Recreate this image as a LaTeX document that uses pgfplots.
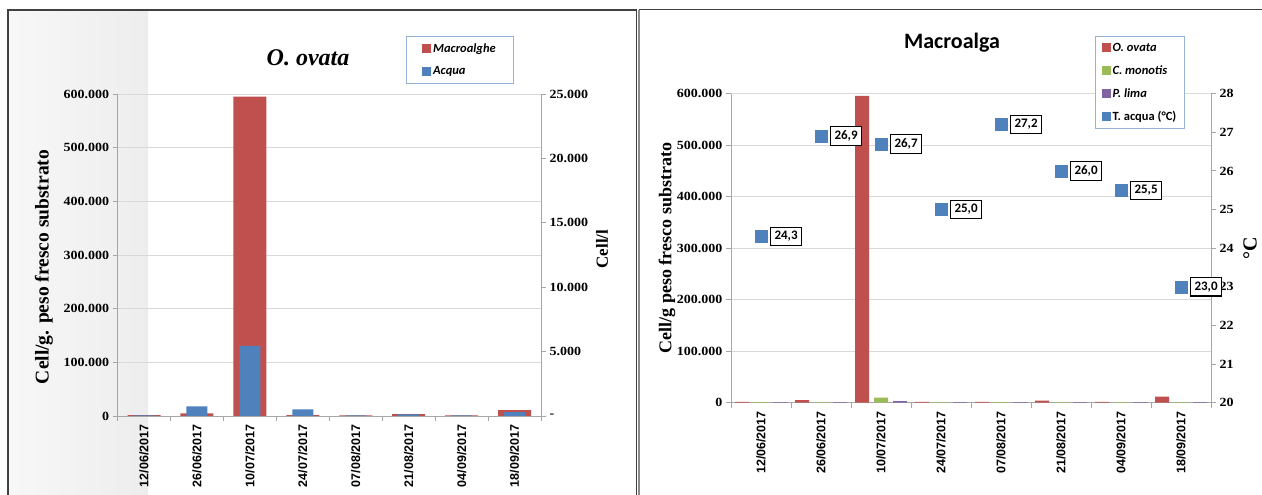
\documentclass[border=0pt]{standalone}
\usepackage{fontspec}
\setmainfont{Liberation Serif}
\newfontfamily\tnrw[FakeStretch=1.12]{Liberation Serif}
\newfontfamily\arialf{Liberation Sans}
\newfontfamily\calib{Carlito}
\usepackage{pgfplots}
\pgfplotsset{compat=1.18}

\definecolor{xred}{HTML}{C0504D}
\definecolor{xblue}{HTML}{4F81BD}
\definecolor{xgreen}{HTML}{9BBB59}
\definecolor{xpurple}{HTML}{8064A2}
\definecolor{gridc}{HTML}{D9D9D9}
\definecolor{axc}{HTML}{A6A6A6}
\definecolor{legc}{HTML}{95B3D7}
\definecolor{framec}{HTML}{404040}

\pgfplotsset{
  xlsbase/.style={
    scale only axis, anchor=south west,
    xmin=0.5, xmax=8.5,
    axis line style={axc, line width=0.9pt},
    tick style={axc, line width=0.9pt},
    major tick length=5pt,
    tick align=outside,
    clip=false,
    scaled y ticks=false,
    yticklabel style={font=\tnrw\bfseries\fontsize{12.5}{12.5}\selectfont},
  },
  datex/.style={
    xtick={0.5,1.5,...,8.5},
    xticklabels={12/06/2017,26/06/2017,10/07/2017,24/07/2017,07/08/2017,21/08/2017,04/09/2017,18/09/2017},
    x tick label as interval,
    xticklabel style={rotate=90, anchor=east, font=\arialf\bfseries\fontsize{12.5}{12.5}\selectfont},
  },
  sqimg/.style={legend image code/.code={\fill[#1] (0pt,-3.5pt) rectangle (8pt,4.5pt);}},
}

\begin{document}
\begin{tikzpicture}
\path[use as bounding box, fill=white] (0pt,0pt) rectangle (1262pt,495pt);
\shade[left color=white!97!black, right color=white!93!black] (8pt,0pt) rectangle (148pt,485pt);

% ---------------- left panel ----------------
\begin{axis}[xlsbase, datex, at={(117.6pt,79pt)}, width=423.4pt, height=322pt,
  ymin=0, ymax=600000,
  axis y line*=left, axis x line*=bottom,
  ytick={0,100000,200000,300000,400000,500000,600000},
  yticklabels={0,100.000,200.000,300.000,400.000,500.000,600.000},
  ymajorgrids, grid style={gridc, line width=0.9pt},
]
\addplot[ybar, bar width=33pt, bar shift=0pt, fill=xred, draw=none] coordinates
  {(1,1500) (2,5000) (3,595000) (4,1500) (5,1200) (6,3500) (7,1200) (8,11000)};
\end{axis}

\begin{axis}[xlsbase, at={(117.6pt,79pt)}, width=423.4pt, height=322pt,
  ymin=0, ymax=25000,
  axis y line*=right, axis x line=none,
  ytick={0,5000,10000,15000,20000,25000},
  yticklabels={-,5.000,10.000,15.000,20.000,25.000},
  legend style={at={(rel axis cs:0.681,1.180)}, anchor=north west, draw=legc, line width=0.8pt,
    font=\calib\bfseries\itshape\fontsize{12.5}{12.5}\selectfont, inner xsep=16pt, inner ysep=5pt, row sep=9pt},
  legend cell align=left,
]
\addlegendimage{sqimg=xred}
\addlegendentry{Macroalghe}
\addlegendimage{sqimg=xblue}
\addlegendentry{Acqua}
\addplot[ybar, bar width=21pt, bar shift=0pt, fill=xblue, draw=none, forget plot] coordinates
  {(1,40) (2,750) (3,5450) (4,520) (5,50) (6,120) (7,50) (8,300)};
\end{axis}

\node[font=\bfseries\itshape\fontsize{24}{24}\selectfont] at (308pt,437pt) {O. ovata};
\node[rotate=90, font=\bfseries\fontsize{19.5}{19.5}\selectfont] at (44pt,228pt) {Cell/g. peso fresco substrato};
\node[rotate=90, font=\bfseries\fontsize{17}{17}\selectfont] at (602pt,246pt) {Cell/l};

% ---------------- right panel ----------------
\begin{axis}[xlsbase, datex, at={(731pt,92.3pt)}, width=480pt, height=309pt,
  ymin=0, ymax=600000,
  axis y line*=left, axis x line*=bottom,
  ytick={0,100000,200000,300000,400000,500000,600000},
  yticklabels={0,100.000,200.000,300.000,400.000,500.000,600.000},
  ymajorgrids, grid style={gridc, line width=0.9pt},
]
\addplot[ybar, bar width=14pt, bar shift=-19pt, fill=xred, draw=none] coordinates
  {(1,1500) (2,5200) (3,596000) (4,1500) (5,1500) (6,3900) (7,1500) (8,11600)};
\addplot[ybar, bar width=14pt, bar shift=0pt, fill=xgreen, draw=none] coordinates
  {(1,1200) (2,1200) (3,9700) (4,1200) (5,1200) (6,1200) (7,1200) (8,1200)};
\addplot[ybar, bar width=14pt, bar shift=19pt, fill=xpurple, draw=none] coordinates
  {(1,1200) (2,1200) (3,3200) (4,1200) (5,1200) (6,1200) (7,1200) (8,1200)};
\end{axis}

\begin{axis}[xlsbase, at={(731pt,92.3pt)}, width=480pt, height=309pt,
  ymin=20, ymax=28,
  axis y line*=right, axis x line=none,
  ytick={20,21,...,28},
  yticklabels={20,21,22,23,24,25,26,27,28},
  legend style={at={(rel axis cs:0.759,1.187)}, anchor=north west, draw=legc, line width=0.8pt,
    font=\calib\bfseries\fontsize{12.5}{12.5}\selectfont, inner xsep=6pt, inner ysep=5pt, row sep=8.5pt},
  legend cell align=left,
]
\addlegendimage{sqimg=xred}
\addlegendentry{\textit{O. ovata}}
\addlegendimage{sqimg=xgreen}
\addlegendentry{\textit{C. monotis}}
\addlegendimage{sqimg=xpurple}
\addlegendentry{\textit{P. lima}}
\addlegendimage{sqimg=xblue}
\addlegendentry{T. acqua (°C)}
\addplot[only marks, mark=square*, mark size=6pt, color=xblue, forget plot,
  nodes near coords, nodes near coords align=horizontal, point meta=explicit symbolic,
  every node near coord/.append style={anchor=west, xshift=9pt, draw=black, line width=1.1pt,
    fill=white, text=black, font=\calib\bfseries\fontsize{13}{13}\selectfont,
    inner xsep=4pt, inner ysep=4pt}]
  table[meta=lab] {
x y lab
1 24.3 24,3
2 26.9 26,9
3 26.7 26,7
4 25.0 25,0
5 27.2 27,2
6 26.0 26,0
7 25.5 25,5
8 23.0 23,0
};
\end{axis}

\node[font=\calib\bfseries\fontsize{22}{22}\selectfont] at (952pt,452pt) {Macroalga};
\node[rotate=90, font=\bfseries\fontsize{18}{18}\selectfont] at (667pt,247pt) {Cell/g peso fresco substrato};
\node[rotate=90, font=\bfseries\fontsize{20}{20}\selectfont] at (1250pt,247pt) {°C};

% frames
\draw[framec, line width=1.6pt] (8pt,-5pt) -- (8pt,485pt) -- (636.5pt,485pt) -- (636.5pt,-5pt);
\draw[black!45, line width=1.2pt] (639pt,-5pt) -- (639pt,485pt);
\draw[framec, line width=1.6pt] (639pt,485.5pt) -- (1270pt,485.5pt);
\end{tikzpicture}
\end{document}
